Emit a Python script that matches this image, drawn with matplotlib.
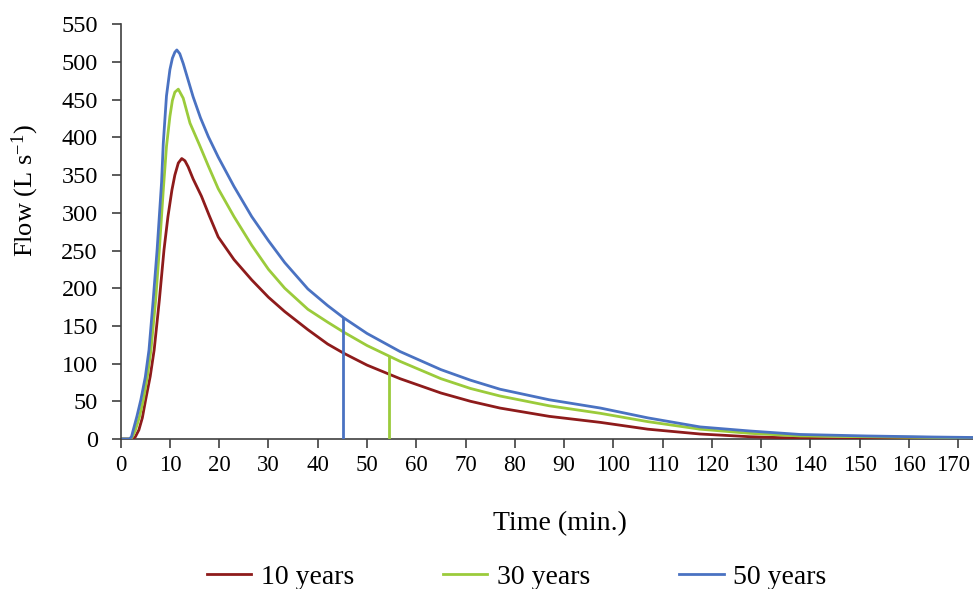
import matplotlib
matplotlib.use("Agg")
import matplotlib.pyplot as plt
import matplotlib.transforms as mtransforms
import numpy as np

t_10 = [0, 2.5, 3.0, 3.7, 4.4, 5.07, 6.0, 6.8, 7.85, 8.8, 9.6, 10.4, 11.0, 11.7, 12.4, 13.05, 13.7, 14.7,
        16.4, 18, 19.8, 23, 26.6, 30, 33.3, 38, 42, 45.2, 50, 56.7, 65, 71, 77, 87, 97.4, 107, 117.6,
        127.7, 137.9, 151.4, 165, 169.5]
q_10 = [0, 0, 3, 12, 28, 52, 83, 118, 184, 251, 295, 330, 350, 366, 372, 369, 361, 345,
        322, 296, 268, 238, 211, 188, 169, 145, 126, 114, 98, 80, 61, 50, 41, 30, 22, 13, 6.6,
        3, 1, -0.5, -1, -1]

t_30 = [0, 2, 2.4, 3, 3.8, 4.6, 5.4, 6.15, 7.1, 7.85, 8.65, 9.0, 9.3, 10, 10.5, 11.0, 11.7, 12.7,
        14.07, 16, 17.8, 19.8, 23, 26.6, 30, 33.3, 38, 42, 45.2, 50, 56.7, 65, 71, 77, 87, 97.4, 107,
        117.6, 127.7, 137.9, 151.4, 165, 173]
q_30 = [0, 0, 3, 12, 29, 52, 82, 118, 184, 251, 330, 361, 388, 428, 449, 460, 464, 452,
        419, 390, 362, 332, 295, 257, 225, 200, 172, 155, 142, 124, 103, 80, 67, 57, 44, 34, 23,
        13, 7.5, 4, 3, 2, 1.5]

t_50 = [0, 1.8, 2.2, 2.56, 3.3, 4.1, 5.0, 5.75, 6.6, 7.4, 8.3, 8.65, 9.3, 10, 10.5, 11.0, 11.4, 12.0,
        12.7, 14.7, 16.2, 17.8, 19.8, 23, 26.6, 30, 33.3, 38, 42, 45.2, 50, 56.7, 65, 71, 77, 87, 97.4,
        107, 117.6, 127.7, 137.9, 151.4, 165, 173]
q_50 = [0, 0, 3, 12, 30, 52, 82, 118, 184, 251, 340, 392, 455, 490, 505, 513, 516, 511,
        498, 454, 426, 401, 374, 335, 295, 263, 234, 199, 177, 161, 140, 116, 92, 78, 66, 52, 41,
        28, 16, 10.6, 6, 4, 2.6, 2]

# cut-off drop lines (time, flow at the curve)
cut_30 = (54.5, 109)
cut_50 = (45.2, 161)

labels = ["10 years", "30 years", "50 years"]
colors = ["#8E1B1B", "#9BCB3B", "#4A72C2"]

plt.rcParams["font.family"] = ["Liberation Serif", "DejaVu Serif"]
plt.rcParams["mathtext.default"] = "regular"

fig = plt.figure(figsize=(9.73, 5.89), dpi=100)
ax = fig.add_axes([0.124, 0.2547, 0.876, 0.704])

lines = []
for t, q, c, lab in zip([t_10, t_30, t_50], [q_10, q_30, q_50], colors, labels):
    ln, = ax.plot(t, q, color=c, lw=2.0, label=lab, solid_joinstyle="round")
    lines.append(ln)

ax.plot([cut_30[0], cut_30[0]], [0, cut_30[1]], color=colors[1], lw=2.0)
ax.plot([cut_50[0], cut_50[0]], [0, cut_50[1]], color=colors[2], lw=2.0)

ax.set_xlim(0, 173)
ax.set_ylim(0, 550)
ax.set_xticks(np.arange(0, 171, 10))
ax.set_yticks(np.arange(0, 551, 50))
for s in ["top", "right"]:
    ax.spines[s].set_visible(False)
for s in ["left", "bottom"]:
    ax.spines[s].set_color("#404040")
    ax.spines[s].set_linewidth(1.2)
ax.tick_params(direction="out", length=6.5, width=1.2, color="#404040", labelsize=17.5)
ax.tick_params(axis="y", pad=10)
ax.tick_params(axis="x", pad=5, labelsize=16.5)
ax.spines["bottom"].set_zorder(0)

# last x label sits right at the figure edge, nudge it in a little
last = ax.get_xticklabels()[-1]
last.set_transform(last.get_transform() + mtransforms.ScaledTranslation(-4 / 72, 0, fig.dpi_scale_trans))

ax.set_xlabel("Time (min.)", fontsize=20)
ax.xaxis.set_label_coords(0.515, -0.175)
ax.set_ylabel("Flow (L s$^{-1}$)", fontsize=19)
ax.yaxis.set_label_coords(-0.094, 0.6)

fig.legend(handles=lines, loc="center", bbox_to_anchor=(0.531, 1 - 577 / 589), ncol=3,
           frameon=False, fontsize=20, handlelength=1.6, handletextpad=0.35, columnspacing=3.2)

fig.savefig("out.png", dpi=100)
